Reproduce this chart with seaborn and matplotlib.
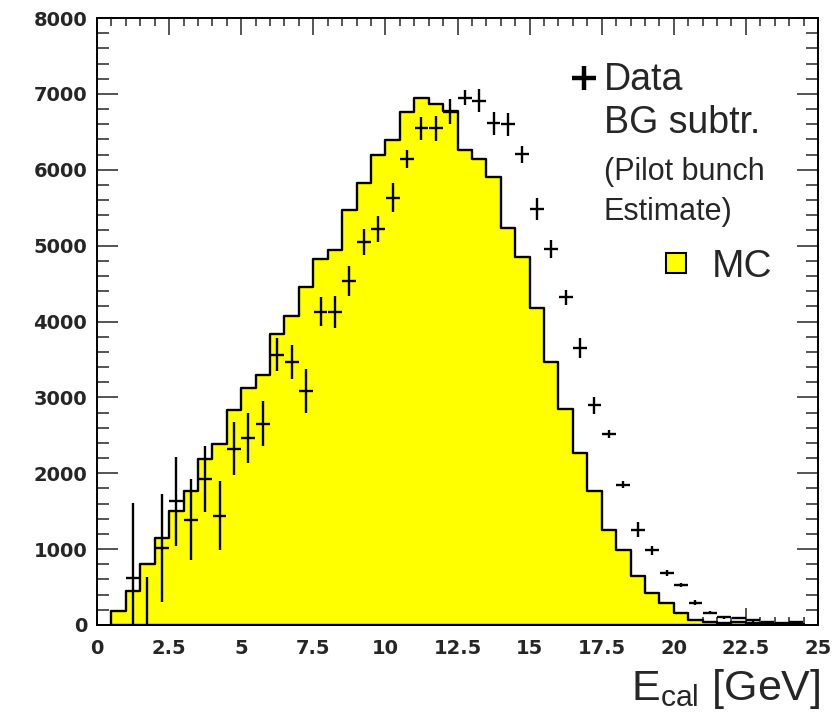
import numpy as np
import pandas as pd
import matplotlib
matplotlib.use("Agg")
import matplotlib.pyplot as plt
from matplotlib.ticker import MultipleLocator
import seaborn as sns

# MC histogram (0.5 GeV bins, 0.5 -> 24.5 GeV)
mc_lo, mc_hi, mc_bw = 0.5, 24.5, 0.5
mc_counts = [188, 451, 802, 1152, 1498, 1770, 2191, 2388, 2834, 3118,
             3298, 3833, 4074, 4455, 4827, 4941, 5476, 5825, 6198, 6386,
             6767, 6951, 6869, 6777, 6264, 6146, 5904, 5234, 4853, 4183,
             3460, 2842, 2273, 1765, 1258, 995, 644, 424, 285, 154,
             70, 43, 30, 40, 25, 15, 10, 15]

# background-subtracted data (bin centres)
data_x = [1.25, 1.75, 2.25, 2.75, 3.25, 3.75, 4.25, 4.75, 5.25, 5.75,
          6.25, 6.75, 7.25, 7.75, 8.25, 8.75, 9.25, 9.75, 10.25, 10.75,
          11.25, 11.75, 12.25, 12.75, 13.25, 13.75, 14.25, 14.75, 15.25, 15.75,
          16.25, 16.75, 17.25, 17.75, 18.25, 18.75, 19.25, 19.75, 20.25, 20.75,
          21.25, 21.75, 22.25, 22.75, 23.25, 23.75, 24.25]
data_y = [613, -300, 1016, 1630, 1390, 1923, 1442, 2326, 2462, 2654,
          3565, 3465, 3084, 4130, 4130, 4530, 5046, 5221, 5633, 6141,
          6544, 6544, 6763, 6947, 6908, 6610, 6601, 6203, 5484, 4958,
          4320, 3654, 2895, 2514, 1849, 1258, 982, 687, 530, 293,
          162, 100, 90, 60, 45, 20, 40]
data_err = [990, 930, 710, 590, 530, 430, 450, 350, 330, 300,
            220, 220, 295, 190, 210, 200, 175, 175, 195, 115,
            150, 170, 165, 100, 150, 155, 150, 110, 150, 115,
            100, 130, 115, 50, 50, 100, 55, 40, 25, 30,
            20, 15, 15, 15, 10, 10, 10]

xtick_labels = ["0", "2.5", "5", "7.5", "10", "12.5", "15", "17.5", "20", "22.5", "25"]

mc = pd.DataFrame({"E": np.arange(mc_lo, mc_hi, mc_bw) + mc_bw / 2, "n": mc_counts})

sns.set_style("ticks")
plt.rcParams['font.family'] = ['Liberation Sans', 'DejaVu Sans']

fig = plt.figure(figsize=(8.37, 7.12), dpi=100)
ax = fig.add_axes([0.1159, 0.1222, 0.8614, 0.8525])

sns.histplot(data=mc, x="E", weights="n", binwidth=mc_bw, binrange=(mc_lo, mc_hi),
             element="step", fill=True, color="#ffff00", edgecolor="black",
             linewidth=1.7, alpha=1, ax=ax)

ax.errorbar(data_x, data_y, xerr=0.24, yerr=data_err, fmt="none",
            ecolor="black", elinewidth=1.7, capsize=0, zorder=4)

ax.set_xlim(0, 25)
ax.set_ylim(0, 8000)
ax.set_xticks(np.arange(0, 25.1, 2.5))
ax.set_xticklabels(xtick_labels)
ax.xaxis.set_minor_locator(MultipleLocator(0.5))
ax.yaxis.set_major_locator(MultipleLocator(1000))
ax.yaxis.set_minor_locator(MultipleLocator(200))
ax.set_ylabel("")
ax.set_xlabel("")

for s in ax.spines.values():
    s.set_visible(True)
    s.set_linewidth(1.4)
    s.set_color("black")

ax.tick_params(axis="x", which="major", direction="in", length=12, width=1.1,
               top=True, bottom=True, pad=10)
ax.tick_params(axis="x", which="minor", direction="in", length=6, width=1.1,
               top=True, bottom=True)
ax.tick_params(axis="y", which="major", direction="in", length=15, width=1.1,
               left=True, right=True, pad=7)
ax.tick_params(axis="y", which="minor", direction="in", length=8.5, width=1.1,
               left=True, right=True)
for lab in ax.get_xticklabels() + ax.get_yticklabels():
    lab.set_family("DejaVu Sans")
    lab.set_fontweight("bold")
    lab.set_fontsize(14)

# legend-like annotations
ax.plot([0.675], [0.901], marker="+", markersize=17, mew=3.2, color="black",
        transform=ax.transAxes, clip_on=False)
ax.text(0.703, 0.881, "Data", transform=ax.transAxes, fontsize=27, va="baseline")
ax.text(0.703, 0.8105, "BG subtr.", transform=ax.transAxes, fontsize=27, va="baseline")
ax.text(0.703, 0.733, "(Pilot bunch", transform=ax.transAxes, fontsize=22, va="baseline")
ax.text(0.703, 0.667, "Estimate)", transform=ax.transAxes, fontsize=22, va="baseline")
ax.plot([0.803], [0.597], marker="s", markersize=14, mew=1.5, mfc="#ffff00",
        mec="black", transform=ax.transAxes, clip_on=False)
ax.text(0.853, 0.573, "MC", transform=ax.transAxes, fontsize=28, va="baseline")

fig.text(0.98, 0.017, r"E$_{\mathregular{cal}}$ [GeV]", fontsize=31, ha="right",
         va="baseline")

fig.savefig("out.png", dpi=100)
